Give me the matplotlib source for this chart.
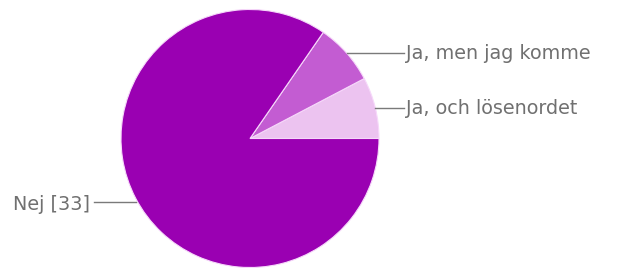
import numpy as np
import matplotlib
matplotlib.use("Agg")
import matplotlib.pyplot as plt

# Svarsfördelning
labels = ["Ja, och lösenordet", "Ja, men jag komme", "Nej [33]"]
values = [3, 3, 33]
colors = ["#ecc3f0", "#c35cd2", "#9a00b2"]

fig = plt.figure(figsize=(6.18, 2.71), dpi=100)
ax = fig.add_axes([0, 0, 1, 1])

cx, cy, r = 250, 138.5, 129
wedges, _ = ax.pie(values, colors=colors, startangle=0, counterclock=False,
                   center=(cx, cy), radius=r, frame=True,
                   wedgeprops=dict(edgecolor="#f6d8fa", linewidth=0.8))
ax.set_xlim(0, 618)
ax.set_ylim(271, 0)
ax.set_aspect("equal")
ax.axis("off")

# etiketter med hjälplinjer
for w, lab in zip(wedges, labels):
    mid = np.deg2rad((w.theta1 + w.theta2) / 2)
    x0 = cx + r * np.cos(mid)
    y0 = cy + r * np.sin(mid)
    if x0 >= cx:
        ax.plot([x0, 404], [y0, y0], color="#7a7a7a", lw=1)
        ax.text(406, y0 + 1, lab, ha="left", va="center", fontsize=13.8, color="#707070")
    else:
        ax.plot([94, x0], [y0 + 4, y0 + 4], color="#7a7a7a", lw=1)
        ax.text(90, y0 + 6, lab, ha="right", va="center", fontsize=13.8, color="#707070")

fig.savefig("out.png", dpi=100)
